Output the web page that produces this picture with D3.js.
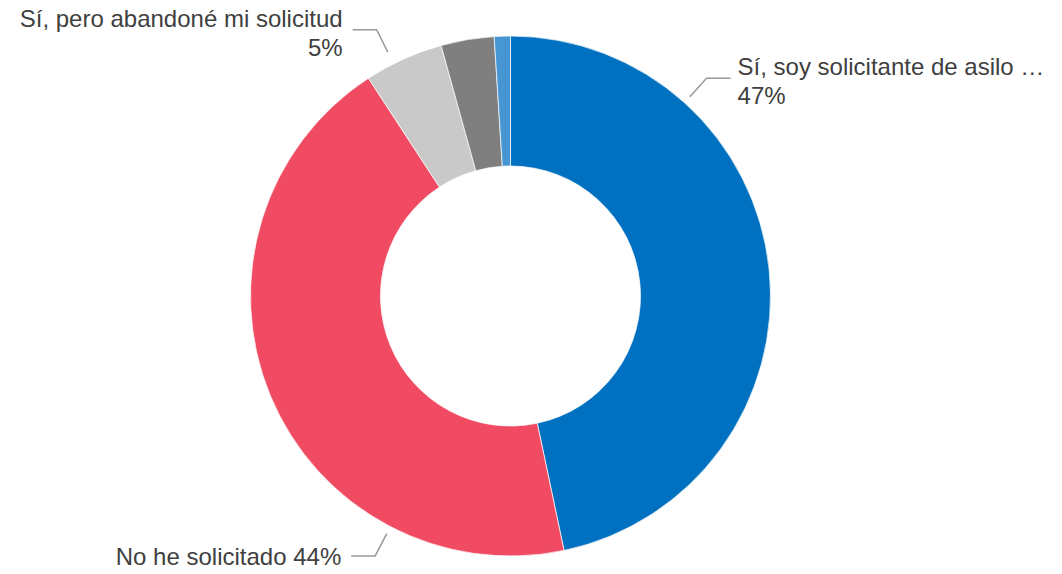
<!DOCTYPE html>
<html>
<head>
<meta charset="utf-8">
<script src="https://cdn.jsdelivr.net/npm/d3@7"></script>
<style>
  body { margin: 0; background: #fff; }
  text { font-family: "Liberation Sans", Arial, sans-serif; }
</style>
</head>
<body>
<div id="chart"></div>
<script>
// slices, clockwise from 12 o'clock
var categories = ["Sí, soy solicitante de asilo …", "No he solicitado", "Sí, pero abandoné mi solicitud", "Otro", "Otro 2"];
var values = [46.7, 44.1, 4.9, 3.3, 1.0];
var colors = ["#0070c0", "#f04b62", "#c9c9c9", "#7f7f7f", "#4596d2"];
// which slices get a label, and the angle (deg) where their leader starts
var labelIdx = [0, 1, 2];
var labelTexts = [["Sí, soy solicitante de asilo …", "47%"], ["No he solicitado 44%"], ["Sí, pero abandoné mi solicitud", "5%"]];
var labelAngles = [42, 207.5, 333.3];
var labelPush = [0, 0, 5]; // extra distance from the ring

var width = 1062, height = 574;
var cx = 510.5, cy = 296, outerR = 260, innerR = 130;

var svg = d3.select("#chart").append("svg")
    .attr("width", width)
    .attr("height", height);

var g = svg.append("g").attr("transform", "translate(" + cx + "," + cy + ")");

var pie = d3.pie().sort(null).value(function(d) { return d; });
var arc = d3.arc().innerRadius(innerR).outerRadius(outerR);

g.selectAll("path.slice")
    .data(pie(values))
    .enter().append("path")
    .attr("class", "slice")
    .attr("d", arc)
    .attr("fill", function(d, i) { return colors[i]; })
    .attr("stroke", "#fff")
    .attr("stroke-width", 0.7);

// leader lines + labels
function pt(angDeg, r) {
  var a = angDeg * Math.PI / 180;
  return [r * Math.sin(a), -r * Math.cos(a)];
}

labelIdx.forEach(function(idx, k) {
  var ang = labelAngles[k];
  var p0 = pt(ang, outerR + 8 + labelPush[k]);
  var p1 = pt(ang, outerR + 33 + labelPush[k]);
  var right = ang < 180;
  var p2 = [p1[0] + (right ? 24 : -24), p1[1]];

  g.append("polyline")
    .attr("points", [p0, p1, p2].map(function(p) { return p.join(","); }).join(" "))
    .attr("fill", "none")
    .attr("stroke", "#999")
    .attr("stroke-width", 1.5);

  var lines = labelTexts[k];
  var tx = p2[0] + (right ? 7 : -10);
  var t = g.append("text")
    .attr("text-anchor", right ? "start" : "end")
    .attr("font-size", 24)
    .attr("fill", "#404040");
  // first baseline sits a bit above the elbow for 2-line labels
  var y0 = lines.length > 1 ? p2[1] - 3 : p2[1] + 9;
  lines.forEach(function(s, j) {
    t.append("tspan")
      .attr("x", tx)
      .attr("y", y0 + j * 29)
      .text(s);
  });
});
</script>
</body>
</html>
